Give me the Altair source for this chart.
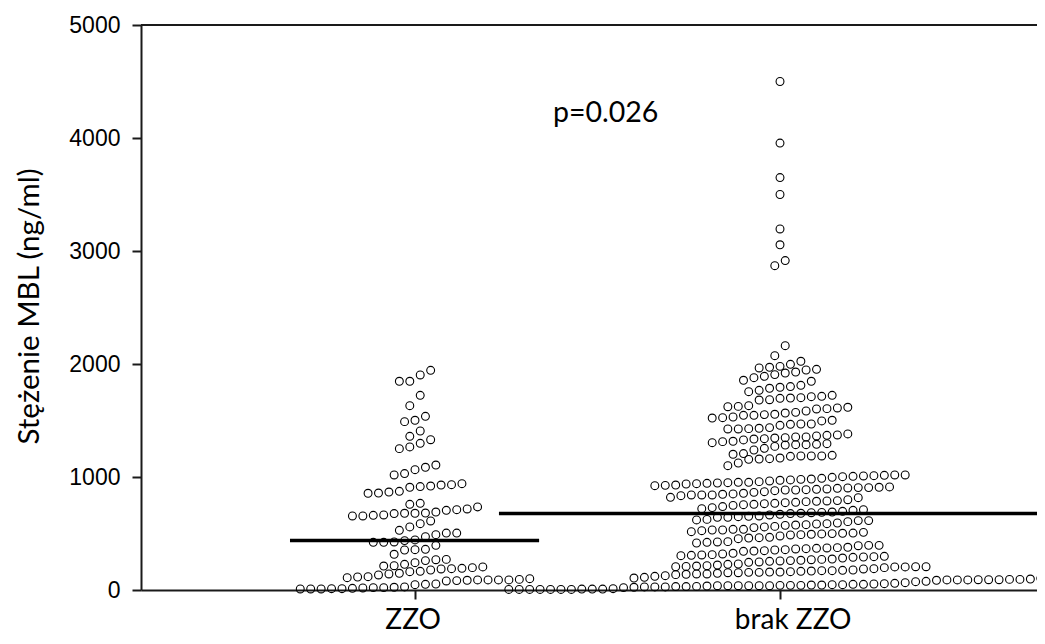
import altair as alt
import pandas as pd

centers = {"ZZO": 1.0, "brak ZZO": 2.0}
col_step = 0.02858

zzo_rows = [
    (-1.5, [1847, 1847, 1903, 1944]),
    (-0.5, [1631, 1723]),
    (-1, [1490, 1502, 1537]),
    (-0.5, [1360, 1407]),
    (-1.5, [1251, 1266, 1298, 1330]),
    (-2, [1018, 1030, 1065, 1086, 1106]),
    (-4.5, [856, 858, 867, 873, 909, 915, 920, 929, 932, 941]),
    (-0.5, [758, 767]),
    (-6, [655, 655, 661, 664, 676, 679, 679, 681, 690, 705, 711, 717, 735]),
    (-1.5, [528, 558, 587, 611]),
    (1, [472, 490, 504, 504]),
    (-4, [422, 422, 425, 437, 443]),
    (-1, [354, 357, 360, 395]),
    (-2, [316]),
    (-3, [212, 215, 227, 242, 260, 268, 271]),
    (-6.5, [109, 115, 118, 133, 142, 148, 162, 165, 177, 186, 189, 192, 198, 204]),
    (-11, [9, 9, 9, 12, 12, 15, 18, 21, 21, 24, 27, 47, 50, 53]),
    (3, [80, 83, 86, 89, 89, 89, 89, 94, 100]),
]

brak_rows = [
    (-26, [5, 5, 5, 5, 5, 5, 5, 8, 8, 8, 12]),
    (-15, [21, 24, 27, 27, 27, 30, 30, 32, 35, 38, 38, 38, 38, 38, 38, 41, 41, 41, 44, 44,
           47, 47, 50, 50, 53, 56, 59, 65, 74, 77, 86, 89, 89, 89, 91, 91, 91, 94, 94, 97, 103]),
    (-14, [106, 112, 121, 127, 136, 139, 142, 142, 148, 153, 153, 156, 156, 159, 159,
           162, 165, 168, 171, 171, 174, 177, 186, 189, 198, 204, 204, 206, 206]),
    (-10, [206, 209, 212, 215, 221, 227, 230, 245, 248, 254, 257, 260, 263, 268, 271, 274,
           283, 289, 292, 295, 298]),
    (-9.5, [304, 307, 310, 313, 319, 325, 342, 345, 348, 354, 357, 363, 366, 369, 372, 375,
            378, 392, 395, 395]),
    (-8, [416, 422, 425, 428, 454, 460, 463, 466, 478, 487, 490, 493, 496, 499, 502, 504, 510]),
    (-8.5, [516, 525, 531, 531, 537, 537, 552, 558, 563, 572, 575, 578, 584, 587, 593, 605, 614, 614]),
    (-8, [620, 625, 643, 643, 649, 652, 655, 664, 670, 676, 679, 684, 687, 690, 696, 705, 711]),
    (-7.5, [720, 729, 738, 749, 755, 758, 764, 767, 773, 776, 782, 785, 788, 791, 799, 817]),
    (-10.5, [820, 835, 841, 841, 841, 847, 850, 856, 864, 870, 879, 885, 885, 888, 891, 894,
             900, 903, 906, 906, 909, 912]),
    (-12, [923, 926, 929, 938, 941, 944, 947, 950, 953, 953, 959, 965, 971, 974, 979, 982,
           988, 997, 1003, 1006, 1009, 1012, 1015, 1018, 1018]),
    (-5, [1100, 1124, 1156, 1159, 1162, 1168, 1183, 1186, 1186, 1186, 1192]),
    (-4.5, [1201, 1207, 1239, 1254, 1271, 1283, 1286, 1286, 1289, 1295]),
    (-6.5, [1304, 1313, 1316, 1328, 1336, 1339, 1345, 1348, 1354, 1354, 1363, 1369, 1372, 1381]),
    (-5, [1425, 1425, 1428, 1431, 1437, 1457, 1466, 1469, 1469, 1496, 1502]),
    (-6.5, [1522, 1525, 1531, 1546, 1546, 1552, 1555, 1566, 1572, 1584, 1602, 1605, 1611, 1617]),
    (-5, [1622, 1625, 1631]),
    (-2, [1681, 1684, 1696, 1699, 1702, 1711, 1714, 1723]),
    (-3, [1755, 1767, 1785, 1794, 1800, 1811, 1847]),
    (-3.5, [1856, 1879, 1891, 1906, 1920, 1929, 1947, 1953]),
    (-2, [1965, 1971, 1979, 1997, 2024]),
    (-0.5, [2074]),
    (0.5, [2162]),
    (-0.5, [2870]),
    (0.5, [2915]),
    (0, [3055]),
    (0, [3195]),
    (0, [3500]),
    (0, [3650]),
    (0, [3955]),
    (0, [4500]),
]

mean_groups = [439, 678]
mean_x_start = [0.6575, 1.23]
mean_x_end = [1.34, 2.7041]

group_names = ["ZZO", "brak ZZO"]
group_label_x = [0.995, 2.036]

x_domain = [0.2493, 2.7041]
y_ticks = [0, 1000, 2000, 3000, 4000, 5000]

records = []
for group, rows in (("ZZO", zzo_rows), ("brak ZZO", brak_rows)):
    for start, values in rows:
        for i, v in enumerate(values):
            records.append({"x": centers[group] + (start + i) * col_step, "y": v})
points_df = pd.DataFrame(records)
means_df = pd.DataFrame({"x": mean_x_start, "x2": mean_x_end, "y": mean_groups})
labels_df = pd.DataFrame({"x": group_label_x, "y": [0, 0], "t": group_names})

AXIS_COLOR = "#1a1a1a"

x_scale = alt.Scale(domain=x_domain, nice=False, zero=False)
y_scale = alt.Scale(domain=[0, 5000], nice=False)

x_axis = alt.Axis(
    values=[1, 2], labels=False,
    tickSize=9, tickWidth=2, tickColor=AXIS_COLOR,
    domainWidth=2, domainColor=AXIS_COLOR,
    grid=False, title=None,
)
y_axis = alt.Axis(
    values=y_ticks, format="d",
    labelFont="Liberation Sans", labelFontSize=23, labelColor="#000000",
    labelPadding=12,
    tickSize=9, tickWidth=2, tickColor=AXIS_COLOR,
    domainWidth=2, domainColor=AXIS_COLOR,
    grid=False,
    title="Stężenie MBL (ng/ml)",
    titleFont="Lato", titleFontSize=29.5, titleFontWeight="normal", titleColor="#000000",
    titleX=-103, titleY=281, titleAlign="center", titleBaseline="alphabetic",
)

pts = alt.Chart(points_df).mark_point(
    shape="circle", filled=False, size=62, stroke="#000000", strokeWidth=1.1, opacity=1, clip=False
).encode(
    x=alt.X("x:Q", scale=x_scale, axis=x_axis),
    y=alt.Y("y:Q", scale=y_scale, axis=y_axis),
)

means = alt.Chart(means_df).mark_rule(stroke="#000000", strokeWidth=3.5).encode(
    x=alt.X("x:Q", scale=x_scale), x2="x2:Q", y=alt.Y("y:Q", scale=y_scale),
)

top_line = alt.Chart(pd.DataFrame({"y": [5000]})).mark_rule(stroke=AXIS_COLOR, strokeWidth=2).encode(
    y=alt.Y("y:Q", scale=y_scale),
)

note = alt.Chart(pd.DataFrame({"x": [1.378], "y": [4221], "t": ["p=0.026"]})).mark_text(
    align="left", baseline="middle", font="Lato", fontSize=28.5, color="#000000"
).encode(x=alt.X("x:Q", scale=x_scale), y=alt.Y("y:Q", scale=y_scale), text="t:N")

group_labels = alt.Chart(labels_df).mark_text(
    align="center", baseline="alphabetic", font="Lato", fontSize=28, color="#000000", dy=39
).encode(x=alt.X("x:Q", scale=x_scale), y=alt.Y("y:Q", scale=y_scale), text="t:N")

chart = alt.layer(top_line, pts, means, note, group_labels).properties(
    width=896, height=565,
    padding={"left": 133, "top": 17, "right": 0, "bottom": 46},
    autosize=alt.AutoSizeParams(type="none"),
).configure_view(stroke=None)

chart.save("out.html", embed_options={"renderer": "svg", "actions": False})
